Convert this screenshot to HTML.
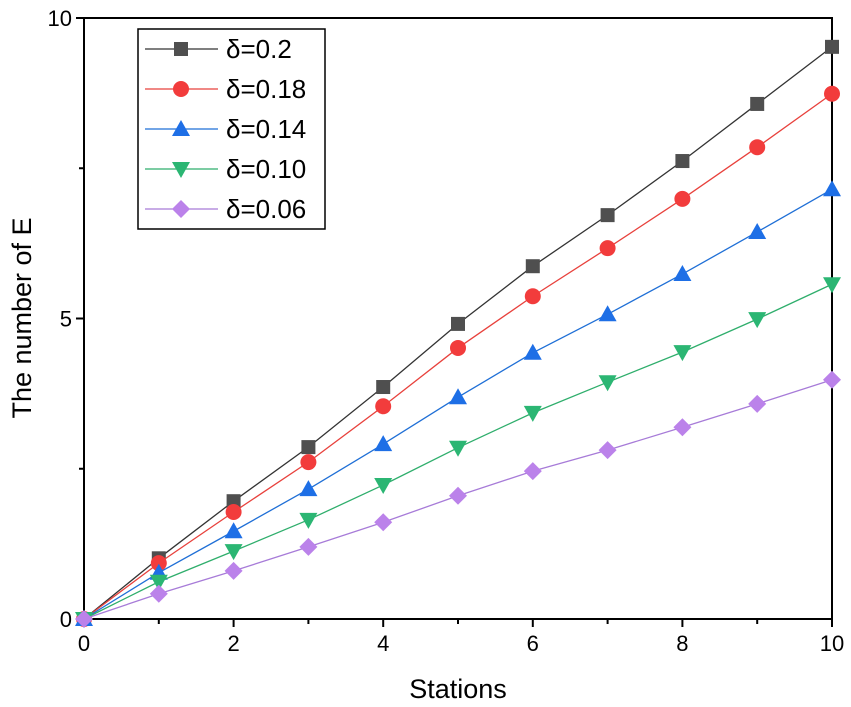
<!DOCTYPE html>
<html><head><meta charset="utf-8"><style>
body{margin:0;background:#fff;}
svg{display:block;font-family:"Liberation Sans",Arial,sans-serif;}
</style></head><body>
<svg id="chart" width="851" height="707"></svg>
<script>
const stations=[0,1,2,3,4,5,6,7,8,9,10];
const s020=[0,1.01,1.96,2.86,3.86,4.91,5.87,6.72,7.62,8.57,9.52];
const s018=[0,0.93,1.78,2.61,3.54,4.51,5.37,6.17,6.99,7.85,8.74];
const s014=[0,0.77,1.46,2.16,2.91,3.69,4.43,5.07,5.74,6.44,7.15];
const s010=[0,0.62,1.13,1.65,2.23,2.85,3.43,3.94,4.44,4.99,5.57];
const s006=[0,0.42,0.80,1.20,1.61,2.05,2.46,2.81,3.19,3.58,3.98];
const seriesLabels=["δ=0.2","δ=0.18","δ=0.14","δ=0.10","δ=0.06"];
const xTicks=[0,2,4,6,8,10];
const yTicks=[0,5,10];

const NS="http://www.w3.org/2000/svg";
const svg=document.getElementById('chart');
const L=84,R=832,T=18,B=619;
const xs=v=>L+(v/10)*(R-L);
const ys=v=>B-(v/10)*(B-T);
function el(tag,attrs,parent){const e=document.createElementNS(NS,tag);for(const k in attrs)e.setAttribute(k,attrs[k]);(parent||svg).appendChild(e);return e;}

const frame=el('rect',{x:L,y:T,width:R-L,height:B-T,fill:'none',stroke:'#000','stroke-width':2});



xTicks.forEach(t=>{
  const ln=el('line',{x1:xs(t),x2:xs(t),y1:B,y2:B+8,stroke:'#000','stroke-width':2});
  
  
  const tx=el('text',{x:xs(t),y:B+32,'text-anchor':'middle','font-size':22});
  tx.textContent=t;
  
  
});
[1,3,5,7,9].forEach(t=>{
  const ln=el('line',{x1:xs(t),x2:xs(t),y1:B,y2:B+5,stroke:'#000','stroke-width':2});
  
  
});
yTicks.forEach(t=>{
  const ln=el('line',{x1:L-8,x2:L,y1:ys(t),y2:ys(t),stroke:'#000','stroke-width':2});
  
  
  const tx=el('text',{x:L-12,y:ys(t)+8,'text-anchor':'end','font-size':22});
  tx.textContent=t;
  
  
});
[2.5,7.5].forEach(t=>{
  const ln=el('line',{x1:L-5,x2:L,y1:ys(t),y2:ys(t),stroke:'#000','stroke-width':2});
  
  
});
const xt=el('text',{x:458,y:698,'text-anchor':'middle','font-size':27});
xt.textContent='Stations';


const yt=el('text',{x:0,y:0,'text-anchor':'middle','font-size':27,transform:'translate(31,318) rotate(-90)'});
yt.textContent='The number of E';



const series=[s020,s018,s014,s010,s006];
const lineCol=['#333','#e8413c','#1f6fd6','#2fae6c','#a77bd8'];
const fillCol=['#4f4f4f','#f23c3c','#1e6fe6','#2bb673','#bb82ea'];
const shapes=['square','circle','tri','tridown','diamond'];
function marker(shape,x,y,col,parent){
  let m;
  if(shape==='square')m=el('rect',{x:x-7,y:y-7,width:14,height:14,fill:col},parent);
  else if(shape==='circle')m=el('circle',{cx:x,cy:y,r:8,fill:col},parent);
  else if(shape==='tri')m=el('polygon',{points:`${x},${y-9} ${x-9},${y+7} ${x+9},${y+7}`,fill:col},parent);
  else if(shape==='tridown')m=el('polygon',{points:`${x},${y+9} ${x-9},${y-7} ${x+9},${y-7}`,fill:col},parent);
  else m=el('polygon',{points:`${x},${y-9} ${x+9},${y} ${x},${y+9} ${x-9},${y}`,fill:col},parent);
  return m;
}
series.forEach((d,i)=>{
  const g=el('g',{});
  
  
  const pl=el('polyline',{points:stations.map((s,j)=>xs(s)+','+ys(d[j])).join(' '),fill:'none',stroke:lineCol[i],'stroke-width':1.3},g);
  
  
  stations.forEach((s,j)=>{
    const m=marker(shapes[i],xs(s),ys(d[j]),fillCol[i],g);
    
    
  });
});

const lg=el('g',{});


const lb=el('rect',{x:138,y:29,width:187,height:200,fill:'#fff',stroke:'#000','stroke-width':1.5},lg);


seriesLabels.forEach((lab,i)=>{
  const y=49+i*40;
  const ln=el('line',{x1:145,x2:218,y1:y,y2:y,stroke:lineCol[i],'stroke-width':1.3},lg);
  
  
  const m=marker(shapes[i],181,y,fillCol[i],lg);
  
  
  const tx=el('text',{x:226,y:y+9,'font-size':26},lg);
  tx.textContent=lab;
  
  
});
</script>
</body></html>
